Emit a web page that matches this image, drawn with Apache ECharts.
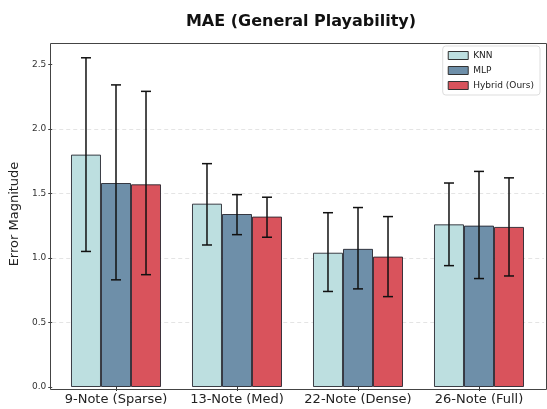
<!DOCTYPE html>
<html><head><meta charset="utf-8">
<script src="https://cdn.jsdelivr.net/npm/echarts@6/dist/echarts.min.js"></script>
<style>html,body{margin:0;padding:0;background:#fff}#c{width:547px;height:409px}</style>
</head><body><div id="c"></div>
<script>
const categories = ['9-Note (Sparse)', '13-Note (Med)', '22-Note (Dense)', '26-Note (Full)'];
const seriesNames = ['KNN', 'MLP', 'Hybrid (Ours)'];
const knn = [1.80, 1.42, 1.04, 1.26];
const mlp = [1.58, 1.34, 1.07, 1.25];
const hybrid = [1.57, 1.32, 1.01, 1.24];
const knnErr = [[1.05, 2.55], [1.10, 1.73], [0.74, 1.35], [0.94, 1.58]];
const mlpErr = [[0.83, 2.34], [1.18, 1.49], [0.76, 1.39], [0.84, 1.67]];
const hybridErr = [[0.87, 2.29], [1.16, 1.47], [0.70, 1.32], [0.86, 1.62]];
const yTicks = [0, 0.5, 1.0, 1.5, 2.0, 2.5];
const colors = ['#bddfe0', '#6e8fa9', '#d9535c'];

const values = [knn, mlp, hybrid];
const errs = [knnErr, mlpErr, hybridErr];
const font = 'DejaVu Sans';
const yMax = 2.68;

const chart = echarts.init(document.getElementById('c'), null, {renderer: 'canvas'});

const barSeries = values.map((v, i) => ({
  type: 'bar', name: seriesNames[i], xAxisIndex: 1, yAxisIndex: 1,
  data: v, barGap: '0%', barCategoryGap: '25.6%',
  itemStyle: {color: colors[i], borderColor: 'rgba(30,30,40,0.85)', borderWidth: 1},
  z: 2
}));

const errSeries = errs.map((e, i) => ({
  type: 'custom', xAxisIndex: 1, yAxisIndex: 1, z: 5, silent: true,
  data: e.map((r, k) => [k, r[0], r[1]]),
  renderItem: function (params, api) {
    const band = api.size([1, 0])[0];
    const bw = band * 0.744 / 3;
    const c = api.coord([api.value(0), 0]);
    const x = c[0] + (i - 1) * bw;
    const lo = api.coord([api.value(0), api.value(1)])[1];
    const hi = api.coord([api.value(0), api.value(2)])[1];
    const cap = 5;
    const st = {stroke: '#111', lineWidth: 1.5};
    return {type: 'group', children: [
      {type: 'line', shape: {x1: x, y1: lo, x2: x, y2: hi}, style: st},
      {type: 'line', shape: {x1: x - cap, y1: lo, x2: x + cap, y2: lo}, style: st},
      {type: 'line', shape: {x1: x - cap, y1: hi, x2: x + cap, y2: hi}, style: st}
    ]};
  }
}));

chart.setOption({
  animation: false,
  backgroundColor: '#fff',
  title: {
    text: 'MAE (General Playability)', left: 296, top: 9, textAlign: 'center',
    textStyle: {fontFamily: font, fontWeight: 'bold', fontSize: 16, color: '#111'}
  },
  legend: {
    data: seriesNames, orient: 'vertical', right: 7, top: 46,
    itemWidth: 20, itemHeight: 8, itemGap: 6, padding: [5, 6, 5, 5],
    backgroundColor: '#fff', borderColor: '#ddd', borderWidth: 1, borderRadius: 3,
    textStyle: {fontFamily: font, fontSize: 9, color: '#222'},
    icon: 'rect',
    itemStyle: {borderColor: '#333', borderWidth: 1}
  },
  graphic: [{
    type: 'rect', left: 48, top: 41, z: 100, silent: true,
    shape: {width: 496, height: 346},
    style: {fill: 'none', stroke: '#444', lineWidth: 1}
  }],
  grid: [
    {left: 48, right: 3, top: 41, bottom: 22},
    {left: 55.5, width: 484, top: 41, bottom: 22}
  ],
  xAxis: [
    {type: 'value', gridIndex: 0, min: 0, max: 1, show: false},
    {type: 'category', gridIndex: 1, data: categories,
      axisLine: {show: false},
      axisTick: {show: true, alignWithLabel: true, length: 4, lineStyle: {color: '#333'}},
      axisLabel: {fontFamily: font, fontSize: 13, color: '#222', margin: 6, interval: 0}}
  ],
  yAxis: [
    {type: 'value', gridIndex: 0, min: 0, max: yMax, interval: 0.5,
      name: 'Error Magnitude', nameLocation: 'middle', nameGap: 31,
      nameTextStyle: {fontFamily: font, fontSize: 13, color: '#222'},
      axisLine: {show: false},
      axisTick: {show: true, length: 4, lineStyle: {color: '#444'}, customValues: yTicks},
      axisLabel: {fontFamily: font, fontSize: 9, color: '#333', margin: 6, customValues: yTicks,
        formatter: v => v.toFixed(1)},
      splitLine: {show: true, showMaxLine: false, showMinLine: false, lineStyle: {color: '#ddd', type: [4, 3], width: 0.8}}},
    {type: 'value', gridIndex: 1, min: 0, max: yMax, show: false, splitLine: {show: false}}
  ],
  series: [...barSeries, ...errSeries]
});
</script></body></html>
